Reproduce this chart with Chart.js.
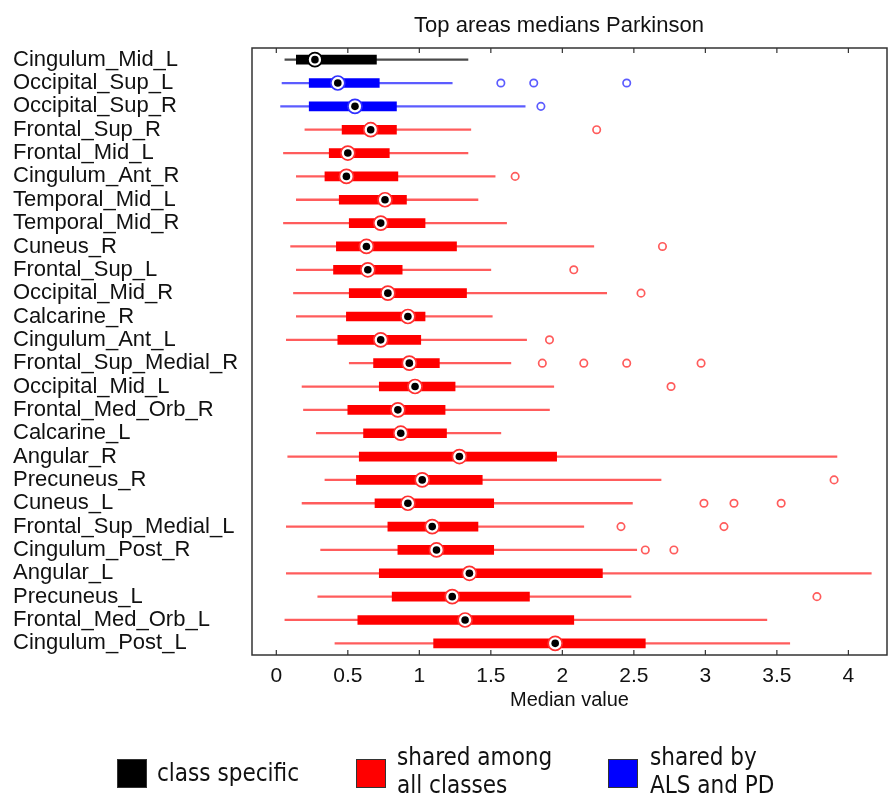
<!DOCTYPE html>
<html>
<head>
<meta charset="utf-8">
<script src="https://cdn.jsdelivr.net/npm/chart.js@4"></script>
<style>
  html, body { margin: 0; background: #fff; overflow: hidden; }
  #wrap { position: relative; width: 890px; height: 794px; overflow: hidden; }
  .key { position: absolute; font-family: "DejaVu Sans Condensed", "DejaVu Sans", sans-serif; font-stretch: condensed; font-size: 24px; color: #111; line-height: 28px; }
  .swatch { position: absolute; width: 28px; height: 27px; border: 1.5px solid #333; }
</style>
</head>
<body>
<div id="wrap">
  <canvas id="median-box-chart" width="890" height="794"></canvas>
  <div class="swatch" style="left:117px; top:759px; background:#000;"></div>
  <div class="key" style="left:157px; top:759px;">class specific</div>
  <div class="swatch" style="left:356px; top:759px; background:#ff0000;"></div>
  <div class="key" style="left:397px; top:743px;">shared among<br>all classes</div>
  <div class="swatch" style="left:608px; top:759px; background:#0000ff;"></div>
  <div class="key" style="left:650px; top:743px;">shared by<br>ALS and PD</div>
</div>
<script>
const areas = ['Cingulum_Mid_L', 'Occipital_Sup_L', 'Occipital_Sup_R', 'Frontal_Sup_R', 'Frontal_Mid_L',
  'Cingulum_Ant_R', 'Temporal_Mid_L', 'Temporal_Mid_R', 'Cuneus_R', 'Frontal_Sup_L', 'Occipital_Mid_R',
  'Calcarine_R', 'Cingulum_Ant_L', 'Frontal_Sup_Medial_R', 'Occipital_Mid_L', 'Frontal_Med_Orb_R',
  'Calcarine_L', 'Angular_R', 'Precuneus_R', 'Cuneus_L', 'Frontal_Sup_Medial_L', 'Cingulum_Post_R',
  'Angular_L', 'Precuneus_L', 'Frontal_Med_Orb_L', 'Cingulum_Post_L'];

// class of each area: specific (black), als_pd (blue), shared (red)
const groups = ['specific', 'als_pd', 'als_pd', 'shared', 'shared', 'shared', 'shared', 'shared', 'shared',
  'shared', 'shared', 'shared', 'shared', 'shared', 'shared', 'shared', 'shared', 'shared', 'shared',
  'shared', 'shared', 'shared', 'shared', 'shared', 'shared', 'shared'];

const whisker_lo = [0.06, 0.04, 0.03, 0.20, 0.05, 0.14, 0.14, 0.05, 0.10, 0.14, 0.12, 0.14, 0.07,
  0.51, 0.18, 0.19, 0.28, 0.08, 0.34, 0.18, 0.07, 0.31, 0.07, 0.29, 0.06, 0.41];
const q1 = [0.14, 0.23, 0.23, 0.46, 0.37, 0.34, 0.44, 0.51, 0.42, 0.40, 0.51, 0.49, 0.43,
  0.68, 0.72, 0.50, 0.61, 0.58, 0.56, 0.69, 0.78, 0.85, 0.72, 0.81, 0.57, 1.10];
const medians = [0.27, 0.43, 0.55, 0.66, 0.50, 0.49, 0.76, 0.73, 0.63, 0.64, 0.78, 0.92, 0.73,
  0.93, 0.97, 0.85, 0.87, 1.28, 1.02, 0.92, 1.09, 1.12, 1.35, 1.23, 1.32, 1.95];
const q3 = [0.70, 0.72, 0.84, 0.84, 0.79, 0.85, 0.91, 1.04, 1.26, 0.88, 1.33, 1.04, 1.01,
  1.14, 1.25, 1.18, 1.19, 1.96, 1.44, 1.52, 1.41, 1.52, 2.28, 1.77, 2.08, 2.58];
const whisker_hi = [1.34, 1.23, 1.74, 1.36, 1.34, 1.53, 1.41, 1.61, 2.22, 1.50, 2.31, 1.51, 1.75,
  1.64, 1.94, 1.91, 1.57, 3.92, 2.69, 2.49, 2.15, 2.52, 4.16, 2.48, 3.43, 3.59];
const outliers = [[], [1.57, 1.80, 2.45], [1.85], [2.24], [], [1.67], [], [], [2.70], [2.08], [2.55], [],
  [1.91], [1.86, 2.15, 2.45, 2.97], [2.76], [], [], [], [3.90], [2.99, 3.20, 3.53], [2.41, 3.13],
  [2.58, 2.78], [], [3.78], [], []];

const x_ticks = [0, 0.5, 1, 1.5, 2, 2.5, 3, 3.5, 4];

const box_colors = { specific: '#000000', shared: '#ff0000', als_pd: '#0000ff' };
const line_colors = { specific: '#4a4a4a', shared: '#ff5c5c', als_pd: '#5c5cff' };
const ring_colors = { specific: '#000000', shared: '#ff3030', als_pd: '#3030ff' };

const outlier_points = [];
const outlier_colors = [];
outliers.forEach((list, i) => {
  list.forEach(v => {
    outlier_points.push({ x: v, y: areas[i] });
    outlier_colors.push(line_colors[groups[i]]);
  });
});

const font_main = '"Liberation Sans", Arial, sans-serif';

// frame round the plot, ticks pointing inward, and the title
const frame_plugin = {
  id: 'frame',
  afterDraw(chart) {
    const { ctx, chartArea: a, scales } = chart;
    ctx.save();
    ctx.strokeStyle = '#333';
    ctx.lineWidth = 1.5;
    ctx.strokeRect(a.left, a.top, a.right - a.left, a.bottom - a.top);
    ctx.lineWidth = 1.2;
    x_ticks.forEach(v => {
      const px = scales.x.getPixelForValue(v);
      ctx.beginPath();
      ctx.moveTo(px, a.bottom);
      ctx.lineTo(px, a.bottom - 5);
      ctx.moveTo(px, a.top);
      ctx.lineTo(px, a.top + 5);
      ctx.stroke();
    });
    ctx.fillStyle = '#111';
    ctx.font = '22px ' + font_main;
    ctx.textAlign = 'center';
    ctx.textBaseline = 'middle';
    ctx.fillText('Top areas medians Parkinson', 559, 26);
    ctx.restore();
  }
};

new Chart(document.getElementById('median-box-chart'), {
  type: 'bar',
  data: {
    labels: areas,
    datasets: [
      {
        label: 'whiskers',
        data: areas.map((a, i) => [whisker_lo[i], whisker_hi[i]]),
        backgroundColor: groups.map(g => line_colors[g]),
        barThickness: 1.6,
        grouped: false,
        order: 5,
      },
      {
        label: 'boxes',
        data: areas.map((a, i) => [q1[i], q3[i]]),
        backgroundColor: groups.map(g => box_colors[g]),
        barThickness: 9,
        grouped: false,
        order: 4,
      },
      {
        type: 'line',
        label: 'outliers',
        indexAxis: 'y',
        data: outlier_points,
        showLine: false,
        pointRadius: 3.7,
        pointBorderWidth: 1.7,
        pointBackgroundColor: '#fff',
        pointBorderColor: outlier_colors,
        order: 3,
      },
      {
        type: 'line',
        label: 'median ring',
        indexAxis: 'y',
        data: medians.map((m, i) => ({ x: m, y: areas[i] })),
        showLine: false,
        pointRadius: 7,
        pointBorderWidth: 1.7,
        pointBackgroundColor: '#fff',
        pointBorderColor: groups.map(g => ring_colors[g]),
        order: 2,
      },
      {
        type: 'line',
        label: 'median dot',
        indexAxis: 'y',
        data: medians.map((m, i) => ({ x: m, y: areas[i] })),
        showLine: false,
        pointRadius: 3.8,
        pointBorderWidth: 0,
        pointBackgroundColor: '#000',
        order: 1,
      },
    ],
  },
  options: {
    indexAxis: 'y',
    responsive: false,
    animation: false,
    layout: { autoPadding: false, padding: { left: 13, right: 3, top: 48, bottom: 0 } },
    plugins: {
      legend: { display: false },
      tooltip: { enabled: false },
    },
    scales: {
      x: {
        type: 'linear',
        min: -0.17,
        max: 4.27,
        grid: { display: false, drawTicks: false },
        border: { display: false },
        afterBuildTicks: scale => { scale.ticks = x_ticks.map(v => ({ value: v })); },
        afterFit: scale => {
          scale.height = 139;
          scale.paddingLeft = 0;
          scale.paddingRight = 0;
        },
        ticks: {
          color: '#111',
          padding: 9,
          font: { family: font_main, size: 21 },
          callback: value => String(value),
        },
        title: {
          display: true,
          text: 'Median value',
          color: '#111',
          font: { family: font_main, size: 20 },
          padding: { top: 0, bottom: 82 },
        },
      },
      y: {
        type: 'category',
        offset: true,
        grid: { display: false, drawTicks: false },
        border: { display: false },
        afterFit: scale => { scale.width = 239; },
        ticks: {
          autoSkip: false,
          crossAlign: 'far',
          padding: 0,
          color: '#111',
          font: { family: font_main, size: 22 },
        },
      },
    },
  },
  plugins: [frame_plugin],
});
</script>
</body>
</html>
